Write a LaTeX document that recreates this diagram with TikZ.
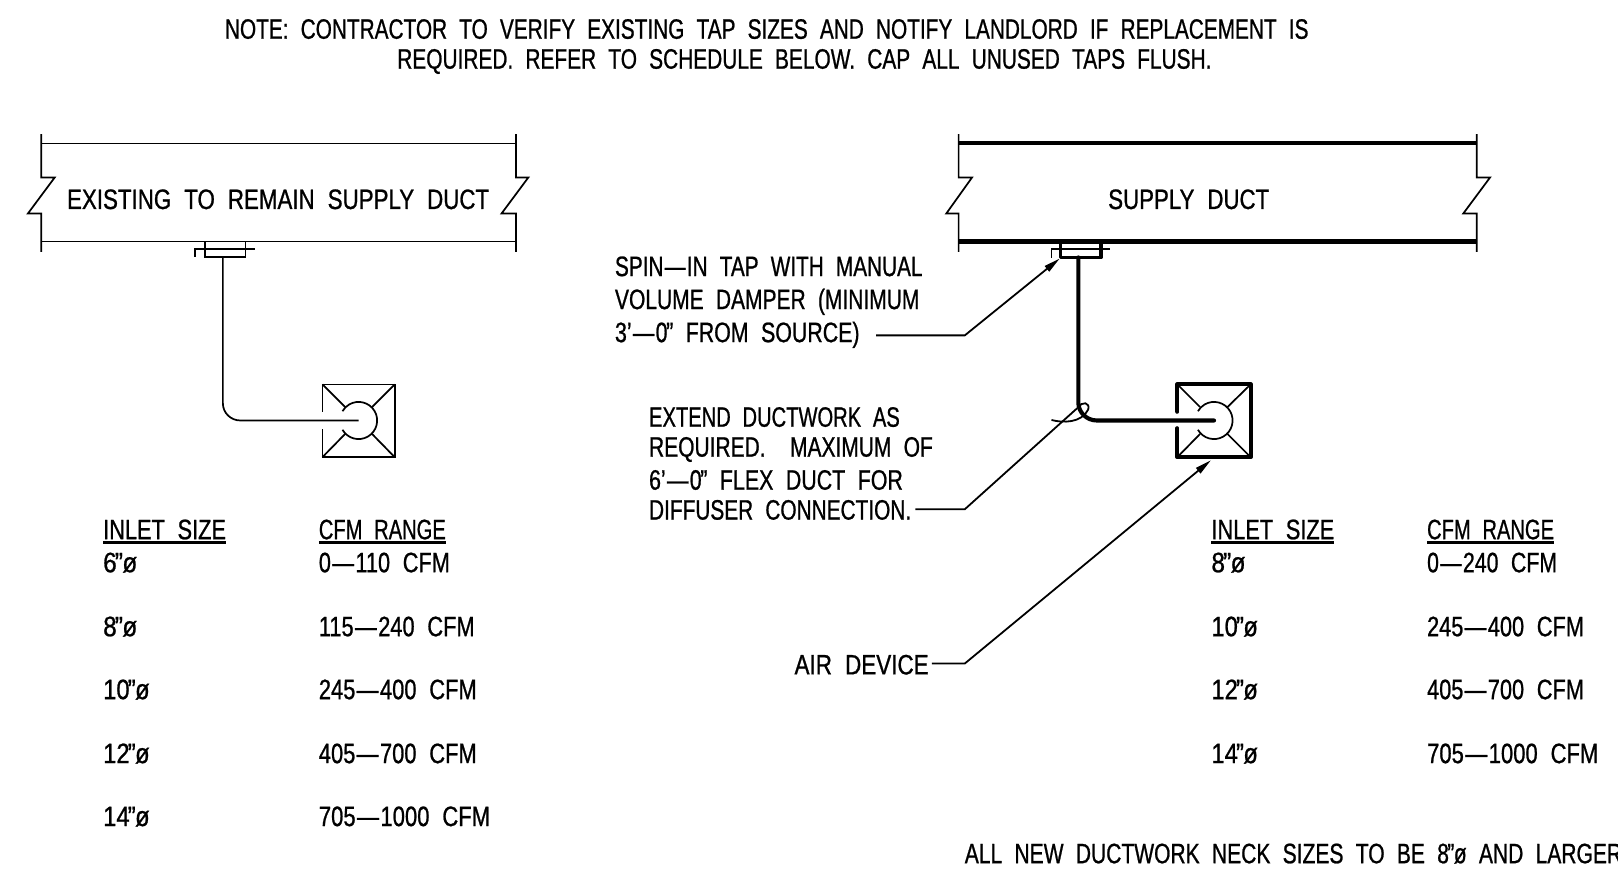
\documentclass[tikz,border=0pt]{standalone}
\usepackage{graphicx}
\usepackage{fontspec}
\setmainfont{Liberation Sans}[FakeStretch=0.78,WordSpace=2.1,FakeBold=0.8]
\usetikzlibrary{arrows.meta}
\tikzset{
  x=0.75pt,y=-0.75pt,
  thinln/.style={line width=1.25pt,line join=miter,line cap=butt},
  thickln/.style={line width=3pt,line join=round,line cap=round},
  lbl/.style={anchor=base west,inner sep=0pt,outer sep=0pt,yshift=1.1pt,font=\fontsize{20.4pt}{24pt}\selectfont},
  lead/.style={line width=1.3pt},
  ul/.style={line width=1.6pt},
  leadarrow/.style={lead,-{Triangle[length=12pt,width=5pt]}},
}
\newcommand{\inch}[1]{#1\kern-1.2pt”\kern-0.4ptø}
\newcommand{\dsh}{\kern1pt—\kern1pt}
\newcommand{\fit}[2]{\resizebox{#1\dimexpr 0.75pt\relax}{\height}{#2}}
\begin{document}
\begin{tikzpicture}
\path[use as bounding box,fill=white] (0,0) rectangle (1568,849);
% notes
\node[lbl] (note1) at (218,39) {\fit{1050}{NOTE: CONTRACTOR TO VERIFY EXISTING TAP SIZES AND NOTIFY LANDLORD IF REPLACEMENT IS}};
\node[lbl] (note2) at (385,68) {\fit{789}{REQUIRED. REFER TO SCHEDULE BELOW. CAP ALL UNUSED TAPS FLUSH.}};
% left duct
\draw[thinln] (40,139) -- (500,139) (40,234) -- (500,234);
\draw[thinln] (40,130) -- (40,172) -- (53,172) -- (27,207) -- (40,207) -- (40,244);
\draw[thinln] (500,130) -- (500,172) -- (512,172) -- (486,207) -- (500,207) -- (500,244);
\node[lbl] (existing) at (65,204) {\fit{409}{EXISTING TO REMAIN SUPPLY DUCT}};
% left tap
\draw[thinln] (198.5,234) -- (198.5,249) -- (238,249) -- (238,234);
\draw[thinln] (189,249) -- (189,241.5) -- (247.5,241.5);
% left diffuser
\coordinate (lneck) at (216,249);
\coordinate (lcentre) at (347.5,407.5);
\draw[thinln] (lneck) -- (216,391) arc[start angle=180,end angle=90,x radius=17,y radius=16.5] -- (lcentre);
\draw[thinln] (312.5,399) -- (312.5,372.5) -- (382.5,372.5) -- (382.5,443) -- (312.5,443) -- (312.5,416);
\draw[thinln] (lcentre) ++(150:18) arc[start angle=150,end angle=-150,radius=18];
\draw[thinln] (312.5,372.5) -- (334.5,394.5) (382.5,372.5) -- (360.5,394.5) (312.5,443) -- (334.5,420.5) (382.5,443) -- (360.5,420.5);
% right duct
\draw[thickln,line cap=butt] (929,139) -- (1431,139) (929,234) -- (1431,234);
\draw[thinln] (929,130) -- (929,172) -- (942,172) -- (917,207) -- (929,207) -- (929,244);
\draw[thinln] (1431,130) -- (1431,172) -- (1444,172) -- (1418,207) -- (1431,207) -- (1431,244);
\node[lbl] (supply) at (1074,204) {\fit{156}{SUPPLY DUCT}};
% right tap
\draw[thickln,line width=2.4pt] (1028,234) -- (1028,249.5) -- (1067,249.5) -- (1067,234);
\draw[thinln] (1019,250) -- (1019,241.5) -- (1076,241.5);
% right diffuser
\coordinate (rneck) at (1045,249.5);
\coordinate (rcentre) at (1176.5,407.5);
\draw[thickln] (rneck) -- (1045,390) arc[start angle=180,end angle=90,x radius=18,y radius=17.5] -- (rcentre);
\draw[thickln] (1141,399) -- (1141,372.5) -- (1212,372.5) -- (1212,443) -- (1141,443) -- (1141,415);
\draw[thinln] (rcentre) ++(150:18) arc[start angle=150,end angle=-150,radius=18];
\draw[thinln] (1141,372.5) -- (1163,394.5) (1212,372.5) -- (1189.5,394.5) (1141,443) -- (1163,420.5) (1212,443) -- (1189.5,420.5);
% flex squiggle
\draw[line width=1.3pt] (1019,407) .. controls (1030,410) and (1048,410) .. (1054.5,397) .. controls (1057,390) and (1048,388) .. (1045,395.5);
% labels
\node[lbl] (s1) at (596,269) {\fit{298}{SPIN\dsh IN TAP WITH MANUAL}};
\node[lbl] (s2) at (596,301) {\fit{295}{VOLUME DAMPER (MINIMUM}};
\node[lbl] (s3) at (596,333) {\fit{237}{3’\dsh 0\kern-1pt” FROM SOURCE)}};
\node[lbl] (e1) at (629,415) {\fit{243}{EXTEND DUCTWORK AS}};
\node[lbl] (e2) at (629,444) {\fit{275}{REQUIRED.\ \ MAXIMUM OF}};
\node[lbl] (e3) at (629,476) {\fit{246}{6’\dsh 0\kern-1pt” FLEX DUCT FOR}};
\node[lbl] (e4) at (629,505) {\fit{254}{DIFFUSER CONNECTION.}};
\node[lbl] (air) at (770,655) {\fit{130}{AIR DEVICE}};
% leaders
\coordinate (la) at (849,325);
\coordinate (lae) at (935,325);
\coordinate (lat) at (1027,250.5);
\draw[leadarrow] (la) -- (lae) -- (lat);
\coordinate (lb) at (887,493.5);
\coordinate (lbe) at (935,493.5);
\coordinate (lbt) at (1044,395.5);
\draw[lead] (lb) -- (lbe) -- (lbt);
\coordinate (lc) at (903,643);
\coordinate (lce) at (935,643);
\coordinate (lct) at (1173.5,446);
\draw[leadarrow] (lc) -- (lce) -- (lct);
% left schedule
\node[lbl] (h1) at (100,524) {\fit{119}{INLET SIZE}};
\node[lbl] (h2) at (309,524) {\fit{123}{CFM RANGE}};
\draw[ul] ([yshift=-2.4pt]h1.base west) -- ([yshift=-2.4pt]h1.base east);
\draw[ul] ([yshift=-2.4pt]h2.base west) -- ([yshift=-2.4pt]h2.base east);
\node[lbl] (a1) at (100,556) {\fit{33}{\inch{6}}};
\node[lbl] (b1) at (309,556) {\fit{127}{0\dsh 110 CFM}};
\node[lbl] (a2) at (100,618) {\fit{33}{\inch{8}}};
\node[lbl] (b2) at (309,618) {\fit{151}{115\dsh 240 CFM}};
\node[lbl] (a3) at (100,679) {\fit{45}{\inch{10}}};
\node[lbl] (b3) at (309,679) {\fit{153}{245\dsh 400 CFM}};
\node[lbl] (a4) at (100,741) {\fit{45}{\inch{12}}};
\node[lbl] (b4) at (309,741) {\fit{153}{405\dsh 700 CFM}};
\node[lbl] (a5) at (100,802) {\fit{45}{\inch{14}}};
\node[lbl] (b5) at (309,802) {\fit{166}{705\dsh 1000 CFM}};
% right schedule
\node[lbl] (h3) at (1174,524) {\fit{119}{INLET SIZE}};
\node[lbl] (h4) at (1383,524) {\fit{123}{CFM RANGE}};
\draw[ul] ([yshift=-2.4pt]h3.base west) -- ([yshift=-2.4pt]h3.base east);
\draw[ul] ([yshift=-2.4pt]h4.base west) -- ([yshift=-2.4pt]h4.base east);
\node[lbl] (c1) at (1174,556) {\fit{33}{\inch{8}}};
\node[lbl] (d1) at (1383,556) {\fit{126}{0\dsh 240 CFM}};
\node[lbl] (c2) at (1174,618) {\fit{45}{\inch{10}}};
\node[lbl] (d2) at (1383,618) {\fit{152}{245\dsh 400 CFM}};
\node[lbl] (c3) at (1174,679) {\fit{45}{\inch{12}}};
\node[lbl] (d3) at (1383,679) {\fit{152}{405\dsh 700 CFM}};
\node[lbl] (c4) at (1174,741) {\fit{45}{\inch{14}}};
\node[lbl] (d4) at (1383,741) {\fit{166}{705\dsh 1000 CFM}};
\node[lbl] (foot) at (935,838) {\fit{637}{ALL NEW DUCTWORK NECK SIZES TO BE \inch{8} AND LARGER}};
\end{tikzpicture}
\end{document}
